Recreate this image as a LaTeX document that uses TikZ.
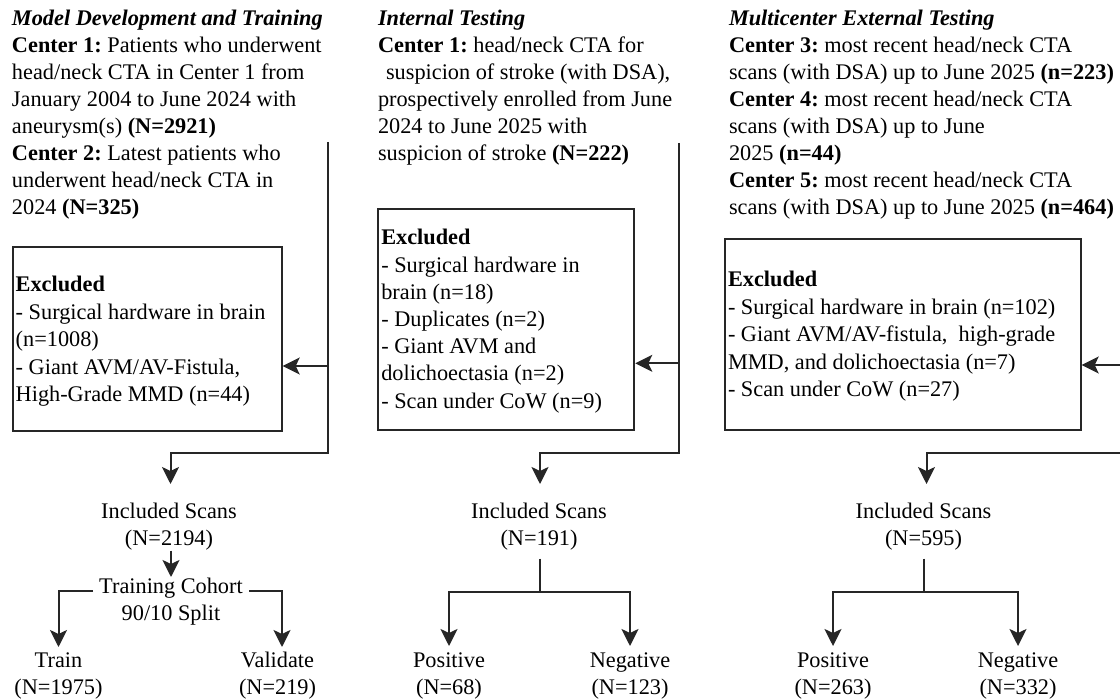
\documentclass[tikz,border=0pt]{standalone}
\usepackage{fontspec}
\setmainfont{Liberation Serif}
\usetikzlibrary{arrows.meta}
\newcommand{\fst}{\rule{0pt}{16pt}}
\begin{document}
\begin{tikzpicture}[x=1pt,y=-1pt,
  txt/.style={inner sep=0pt, outer sep=0pt, font=\fontsize{22.3}{27}\selectfont\frenchspacing, align=left, anchor=north west},
  ctr/.style={inner sep=0pt, outer sep=0pt, font=\fontsize{22.3}{27}\selectfont\frenchspacing, align=center, anchor=north},
  exbox/.style={draw=black!85, line width=2pt, inner sep=0pt},
  ln/.style={draw=black!85, line width=2pt, line join=miter},
  arr/.style={ln, -{Stealth[length=17pt,width=17pt,inset=4pt]}}]
\useasboundingbox (0,0) rectangle (1120,700);
% ---------- top text blocks ----------
\node[txt] (t1) at (12,10) {\fst\textbf{\textit{Model Development and Training}}\\
\textbf{Center 1:} Patients who underwent\\
head/neck CTA in Center 1 from\\
January 2004 to June 2024 with\\
aneurysm(s) \textbf{(N=2921)}\\
\textbf{Center 2:} Latest patients who\\
underwent head/neck CTA in\\
2024 \textbf{(N=325)}};
\node[txt] (t2) at (378,10) {\fst\textbf{\textit{Internal Testing}}\\
\textbf{Center 1:} head/neck CTA for\\
\hspace*{8pt}suspicion of stroke (with DSA),\\
prospectively enrolled from June\\
2024 to June 2025 with\\
suspicion of stroke \textbf{(N=222)}};
\node[txt] (t3) at (729,10) {\fst\textbf{\textit{Multicenter External Testing}}\\
\textbf{Center 3:} most recent head/neck CTA\\
scans (with DSA) up to June 2025 \textbf{(n=223)}\\
\textbf{Center 4:} most recent head/neck CTA\\
scans (with DSA) up to June\\
2025 \textbf{(n=44)}\\
\textbf{Center 5:} most recent head/neck CTA\\
scans (with DSA) up to June 2025 \textbf{(n=464)}};
% ---------- excluded boxes ----------
\node[exbox, minimum width=269pt, minimum height=184pt] (ex1) at (147.2,338.7) {};
\node[txt, font=\fontsize{22.3}{27.5}\selectfont\frenchspacing] (ex1t) at (15.7,275.7) {\fst\textbf{Excluded}\\
- Surgical hardware in brain\\
(n=1008)\\
- Giant AVM/AV-Fistula,\\
High-Grade MMD (n=44)};
\node[exbox, minimum width=256pt, minimum height=220.7pt] (ex2) at (506.3,319.65) {};
\node[txt, font=\fontsize{22.3}{27.2}\selectfont\frenchspacing] (ex2t) at (381.3,229) {\fst\textbf{Excluded}\\
- Surgical hardware in\\
brain (n=18)\\
- Duplicates (n=2)\\
- Giant AVM and\\
dolichoectasia (n=2)\\
- Scan under CoW (n=9)};
\node[exbox, minimum width=355.7pt, minimum height=190.7pt] (ex3) at (902.85,334.65) {};
\node[txt, font=\fontsize{22.3}{27.5}\selectfont\frenchspacing] (ex3t) at (728,270.7) {\fst\textbf{Excluded}\\
- Surgical hardware in brain (n=102)\\
- Giant AVM/AV-fistula,\ \ high-grade\\
MMD, and dolichoectasia (n=7)\\
- Scan under CoW (n=27)};
% ---------- lower nodes ----------
\node[ctr] (inc1) at (169,503) {\fst Included Scans\\(N=2194)};
\node[ctr] (tc) at (171,577) {\fst Training Cohort\\90/10 Split};
\node[ctr] (train) at (58.5,651) {\fst Train\\(N=1975)};
\node[ctr] (val) at (277.5,651) {\fst Validate\\(N=219)};
\node[ctr] (inc2) at (539,503) {\fst Included Scans\\(N=191)};
\node[ctr] (pos2) at (449,651) {\fst Positive\\(N=68)};
\node[ctr] (neg2) at (630,651) {\fst Negative\\(N=123)};
\node[ctr] (inc3) at (923.5,503) {\fst Included Scans\\(N=595)};
\node[ctr] (pos3) at (833,651) {\fst Positive\\(N=263)};
\node[ctr] (neg3) at (1018,651) {\fst Negative\\(N=332)};
% ---------- column 1 connectors ----------
\coordinate (c1a) at (328,142);
\coordinate (c1b) at (328,453);
\coordinate (c1m) at (328,366);
\draw[arr] (c1a) -- (c1b) -| ([xshift=1.5pt,yshift=19pt]inc1.north);
\draw[arr] (c1m) -- (c1m -| ex1.east);
\draw[arr] (tc.north |- inc1.south) -- (tc.north);
\coordinate (tcl) at (93,591);
\coordinate (tcr) at (249,591);
\draw[arr] (tcl) -| ([yshift=4pt]train.north);
\draw[arr] (tcr) -| ([xshift=4.5pt,yshift=4pt]val.north);
% ---------- column 2 connectors ----------
\coordinate (c2a) at (679,143);
\coordinate (c2b) at (679,453);
\coordinate (c2m) at (679,363.3);
\draw[arr] (c2a) -- (c2b) -| ([xshift=1pt,yshift=19pt]inc2.north);
\draw[arr] (c2m) -- (c2m -| ex2.east);
\coordinate (s2) at (540,592);
\draw[ln] ([xshift=1pt,yshift=-8pt]inc2.south) -- (s2);
\draw[arr] (s2) -| ([yshift=5pt]pos2.north);
\draw[arr] (s2) -| ([yshift=5pt]neg2.north);
% ---------- column 3 connectors ----------
\coordinate (c3b) at (1120,452.7);
\coordinate (c3m) at (1120,365);
\draw[arr] (c3b) -| ([xshift=3pt,yshift=19pt]inc3.north);
\draw[arr] (c3m) -- (c3m -| ex3.east);
\coordinate (s3) at (924,592);
\draw[ln] ([xshift=0.5pt,yshift=-8pt]inc3.south) -- (s3);
\draw[arr] (s3) -| ([yshift=5pt]pos3.north);
\draw[arr] (s3) -| ([yshift=5pt]neg3.north);
\end{tikzpicture}
\end{document}
